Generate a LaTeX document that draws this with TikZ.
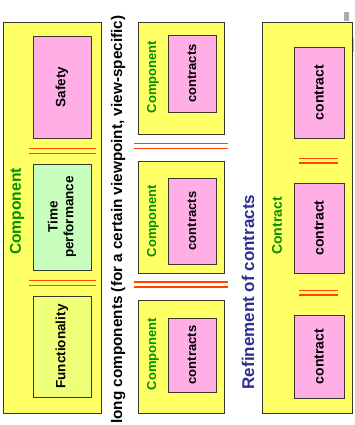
\documentclass[tikz,border=0pt]{standalone}
\usepackage{fontspec}
\setmainfont{Liberation Sans}
\definecolor{boxyellow}{RGB}{255,255,102}
\definecolor{contractpink}{RGB}{255,175,230}
\definecolor{funcyellow}{RGB}{238,255,120}
\definecolor{timegreen}{RGB}{200,255,190}
\definecolor{labelgreen}{RGB}{0,145,0}
\definecolor{eqred}{RGB}{255,70,0}
\definecolor{titleblue}{RGB}{45,45,150}
\definecolor{edgegrey}{RGB}{55,55,40}
\newcommand{\fsz}[1]{\bfseries\fontsize{#1}{1.18\dimexpr#1pt\relax}\selectfont}
\begin{document}
\begin{tikzpicture}[x=1pt,y=-1pt,
  outerbox/.style={draw=edgegrey, line width=0.8pt, fill=boxyellow, rotate=90, inner sep=0pt},
  viewbox/.style={draw=edgegrey, line width=0.8pt, rotate=90, inner sep=0pt, align=center, font=\fsz{13.5}},
  contractbox/.style={draw=edgegrey, line width=0.8pt, fill=contractpink, rotate=90, inner sep=0pt, font=\fsz{13}},
  complabel/.style={rotate=90, inner sep=0pt, text=labelgreen},
  eqline/.style={draw=eqred, line width=1.7pt},
]
\useasboundingbox (0,0) rectangle (354,425);

% left column: one component seen from three viewpoints
\node[outerbox, minimum width=391pt, minimum height=98pt] (comp) at (52,217.5) {};
\node[viewbox, fill=contractpink, minimum width=102pt, minimum height=58pt] (safety) at (62,87) {Safety};
\node[viewbox, fill=timegreen, minimum width=106pt, minimum height=58pt] (time) at (62,217) {Time\\performance};
\node[viewbox, fill=funcyellow, minimum width=101pt, minimum height=58pt] (func) at (62,346.5) {Functionality};
\node[complabel, font=\fsz{15.6}] (complbl) at (17,211.5) {Component};
\draw[eqline] (29,148.5) -- (96,148.5) (29,153.5) -- (96,153.5);
\draw[eqline] (29,280.5) -- (96,280.5) (29,285.5) -- (96,285.5);

% caption of the middle column
\node[rotate=90, anchor=base west, inner sep=0pt, font=\fsz{15.3}] (caption) at (122,424)
  {long components (for a certain viewpoint, view-specific)};

% middle column: components with their contracts
\node[outerbox, minimum width=112pt, minimum height=86pt] (compA) at (181,78) {};
\node[contractbox, minimum width=77pt, minimum height=48pt] (ctrA) at (192,73.5) {contracts};
\node[complabel, font=\fsz{13}] (lblA) at (153,77) {Component};
\node[outerbox, minimum width=112pt, minimum height=86pt] (compB) at (181,217) {};
\node[contractbox, minimum width=86pt, minimum height=48pt] (ctrB) at (192,221) {contracts};
\node[complabel, font=\fsz{13}] (lblB) at (153,221) {Component};
\node[outerbox, minimum width=113pt, minimum height=86pt] (compC) at (181,356.5) {};
\node[contractbox, minimum width=74pt, minimum height=48pt] (ctrC) at (192,355) {contracts};
\node[complabel, font=\fsz{13}] (lblC) at (153,354) {Component};
\draw[eqline] (134,143.5) -- (228,143.5) (134,148.5) -- (228,148.5);
\draw[eqline] (134,282) -- (228,282) (134,287) -- (228,287);

% right column: refinement of contracts
\node[rotate=90, inner sep=0pt, text=titleblue, font=\fsz{17}] (refine) at (248,292) {Refinement of contracts};
\node[outerbox, minimum width=391pt, minimum height=90pt] (contract) at (307,217.5) {};
\node[contractbox, font=\fsz{14}, minimum width=91pt, minimum height=50pt] (c1) at (319,92.5) {contract};
\node[contractbox, font=\fsz{14}, minimum width=90pt, minimum height=50pt] (c2) at (319,228) {contract};
\node[contractbox, font=\fsz{14}, minimum width=83pt, minimum height=50pt] (c3) at (319,356.5) {contract};
\node[complabel, font=\fsz{14}] (ctrlbl) at (277,226) {Contract};
\draw[eqline] (299,158.5) -- (338,158.5) (299,163) -- (338,163);
\draw[eqline] (299,290.5) -- (338,290.5) (299,295) -- (338,295);

% fragments of neighbouring slide elements at the top right
\fill[gray!65] (344,12) rectangle (349,21);
\fill[blue!25!gray!45] (352.5,38) rectangle (354,52);
\end{tikzpicture}
\end{document}
